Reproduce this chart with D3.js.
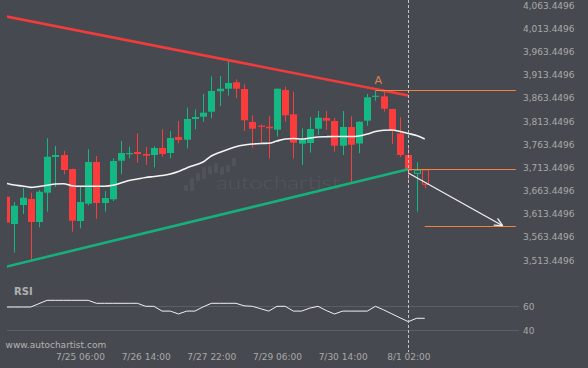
<!DOCTYPE html>
<html><head><meta charset="utf-8">
<script src="https://cdn.jsdelivr.net/npm/d3@7"></script>
<style>html,body{margin:0;padding:0;background:#46494f;}svg{display:block}</style>
</head><body><svg id="c" width="588" height="368"></svg>
<script>
// ---------- data ----------
const priceTicks = [3513.4496,3563.4496,3613.4496,3663.4496,3713.4496,3763.4496,3813.4496,3863.4496,3913.4496,3963.4496,4013.4496,4063.4496];
const timeLabels = ["7/25 06:00","7/26 14:00","7/27 22:00","7/29 06:00","7/30 14:00","8/1 02:00"];
const timeLabelIdx = [9,17,25,33,41,49];
const opens  = [3650,3591.1,3632.0,3645.0,3595.4,3658.6,3735.6,3739.9,3709.7,3597.5,3634.9,3724.8,3636.4,3644.4,3727.6,3742.7,3746.4,3742.1,3739.9,3755.0,3744.2,3778.7,3772.9,3817.6,3822.5,3833.3,3877.3,3882.9,3896.7,3882.3,3811.1,3803.1,3800.9,3794.5,3880.1,3827.7,3764.3,3765.8,3796.6,3819.7,3813.2,3760.0,3800.3,3764.7,3813.9,3866.5,3866.5,3839.1,3786.7,3739.9,3700.4,3707.6];
const highs  = [3651.5,3638.5,3669.4,3658.6,3664.4,3775.9,3759.3,3748.5,3710.5,3671.5,3752.2,3737.8,3662.3,3732.8,3770.1,3757.8,3786.7,3757.8,3758.7,3795.3,3791.7,3813.2,3841.9,3838.5,3871.5,3909.7,3910.3,3942.7,3903.2,3892.4,3825.5,3806.1,3823.4,3883.5,3887.2,3876.4,3797.5,3821.9,3834.8,3834.8,3820.4,3834.8,3823.4,3812.5,3871.5,3878.6,3878.0,3839.8,3821.2,3760.0,3724.2,3707.6];
const lows   = [3593.2,3529.2,3612.6,3511.9,3584.0,3617.6,3670.9,3698.3,3574.5,3581.8,3631.4,3602.5,3617.6,3640.7,3698.3,3732.8,3723.3,3718.3,3713.4,3736.2,3732.8,3765.1,3754.4,3795.3,3811.7,3819.1,3845.6,3867.8,3862.2,3791.7,3755.7,3763.0,3732.8,3779.4,3811.7,3732.8,3718.3,3744.9,3783.0,3793.8,3747.0,3739.9,3681.0,3743.6,3803.1,3857.0,3833.3,3763.6,3735.6,3686.0,3617.6,3668.1];
const closes = [3594,3630.6,3647.8,3595.4,3660.7,3736.2,3739.9,3707.6,3598.2,3638.5,3724.8,3636.4,3647.2,3727.0,3744.2,3744.2,3742.1,3738.4,3755.0,3742.1,3776.6,3772.3,3817.6,3821.9,3831.2,3878.0,3882.9,3895.2,3882.9,3814.8,3796.6,3800.9,3797.5,3882.9,3825.5,3766.4,3773.8,3796.0,3820.4,3813.9,3760.0,3800.3,3762.1,3811.7,3864.4,3867.8,3839.8,3792.3,3739.9,3706.0,3706.9,3676.7];
const firstForecastIdx = 50;
const movingAvg = [3678.9,3675.2,3673.0,3670.2,3672.0,3674.5,3677.4,3678.0,3673.7,3672.4,3672.4,3672.4,3672.6,3674.5,3679.5,3684.9,3688.1,3691.4,3693.5,3695.7,3698.9,3704.3,3711.9,3718.3,3724.8,3737.8,3745.3,3751.8,3757.8,3761.5,3763.6,3764.7,3765.2,3770.1,3774.4,3775.5,3774.4,3776.6,3778.7,3779.4,3779.8,3779.8,3779.8,3780.9,3785.2,3790.6,3793.2,3793.8,3790.6,3786.3,3782.0,3774.4];
const rsiValues = [59.4,59.4,59.4,59.4,62.2,65,65,65,65,65,65,62.5,62.5,62.5,62.5,62.5,62.5,60,60,56,56,53.6,56,56,59.5,62.5,62.5,62.5,62.5,60.4,60,58,56,60,60,56,56,58.5,60,56.5,53.6,56,56,56,56,60,57,53.7,50.4,47.2,50,50];
const rsiTicks = [40,60];
const resistanceLine = [[0,4038.6],[49,3868.2]];
const supportLine = [[0,3499.0],[49,3709.1]];
const levelA = {from:45, to:62.1, value:3880.1};
const levelBreak = {from:49, to:62.1, value:3709.1};
const levelTarget = {from:51, to:62.1, value:3586.8};
const forecastArrow = [[49,3701.0],[60.5,3587.4]];
const patternLabel = {text:"A", idx:45.35, value:3893};
const markerIdx = 49;
const logoBars = [[185,191],[178,191],[173,181],[167,179],[166,174],[163,173],[167,175],[165,172],[158,166]];

// ---------- drawing ----------
const W = 588, H = 368, BG = "#46494f";
const GREEN = "#13b883", RED = "#fb3c3c", ORANGE = "#f5823c", TXT = "#a9a9a9";
const FONT = "DejaVu Sans";
const svg = d3.select("#c");
svg.append("rect").attr("width", W).attr("height", H).attr("fill", BG);

const x = d3.scaleLinear().domain([0, 49]).range([6.1, 408.3]);
const y = d3.scaleLinear().domain([3513.4496, 4063.4496]).range([260, 5]);
const yr = d3.scaleLinear().domain([40, 60]).range([330.3, 306.3]);

const defs = svg.append("defs");
defs.append("clipPath").attr("id", "mainClip").append("rect").attr("x", 7).attr("y", 0).attr("width", 513).attr("height", 275);
defs.append("clipPath").attr("id", "rsiClip").append("rect").attr("x", 7).attr("y", 282).attr("width", 513).attr("height", 62);

// watermark
const wm = svg.append("g");
wm.selectAll("rect").data(logoBars).join("rect")
  .attr("x", (d, i) => 184 + i * 6).attr("y", d => d[0]).attr("width", 4).attr("height", d => d[1] - d[0])
  .attr("rx", 1).attr("fill", "#505459");
wm.append("text").attr("x", 216).attr("y", 189).attr("font-family", "Lato").attr("font-weight", 300).attr("font-size", 18)
  .attr("textLength", 124).attr("lengthAdjust", "spacingAndGlyphs").attr("fill", "#53575c").text("autochartist");

const main = svg.append("g").attr("clip-path", "url(#mainClip)");

// candles
const idx = d3.range(opens.length);
const cg = main.append("g");
idx.forEach(i => {
  const up = closes[i] >= opens[i];
  const col = up ? GREEN : RED;
  const cx = Math.round(x(i)) + 0.5;
  const hollow = i >= firstForecastIdx;
  const top = y(Math.max(opens[i], closes[i])), bot = y(Math.min(opens[i], closes[i]));
  cg.append("line").attr("x1", cx).attr("x2", cx).attr("y1", y(highs[i])).attr("y2", y(lows[i]))
    .attr("stroke", col).attr("stroke-width", 1);
  if (hollow) {
    cg.append("rect").attr("x", cx - 3).attr("y", top).attr("width", 6).attr("height", Math.max(2, bot - top))
      .attr("fill", BG).attr("stroke", col).attr("stroke-width", 1);
  } else {
    cg.append("rect").attr("x", cx - 3.5).attr("y", top).attr("width", 7).attr("height", Math.max(1.2, bot - top))
      .attr("fill", col);
  }
});

// moving average
main.append("path").datum(movingAvg)
  .attr("d", d3.line().x((d, i) => x(i)).y(d => y(d)).curve(d3.curveMonotoneX))
  .attr("fill", "none").attr("stroke", "#f4f4f4").attr("stroke-width", 1.6);

// trend lines
const tl = d3.line().x(d => x(d[0])).y(d => y(d[1]));
main.append("path").datum(resistanceLine).attr("d", tl).attr("stroke", "#f03c3c").attr("stroke-width", 2.6).attr("fill", "none");
main.append("path").datum(supportLine).attr("d", tl).attr("stroke", "#17b07a").attr("stroke-width", 2.6).attr("fill", "none");

// horizontal levels
[levelA, levelBreak, levelTarget].forEach(l => {
  main.append("line").attr("x1", x(l.from)).attr("x2", x(l.to)).attr("y1", Math.round(y(l.value)) + 0.5).attr("y2", Math.round(y(l.value)) + 0.5)
    .attr("stroke", ORANGE).attr("stroke-width", 1.1);
});

// forecast arrow
const a0 = [x(forecastArrow[0][0]), y(forecastArrow[0][1])];
const a1 = [x(forecastArrow[1][0]), y(forecastArrow[1][1])];
main.append("line").attr("x1", a0[0]).attr("y1", a0[1]).attr("x2", a1[0]).attr("y2", a1[1])
  .attr("stroke", "#f0f0f0").attr("stroke-width", 1.3);
const ang = Math.atan2(a1[1] - a0[1], a1[0] - a0[0]);
[0.45, -0.45].forEach(da => {
  const L = 9;
  main.append("line").attr("x1", a1[0]).attr("y1", a1[1])
    .attr("x2", a1[0] - L * Math.cos(ang + da)).attr("y2", a1[1] - L * Math.sin(ang + da))
    .attr("stroke", "#f0f0f0").attr("stroke-width", 1.3);
});

// pattern label
svg.append("text").attr("x", x(patternLabel.idx)).attr("y", y(patternLabel.value)).attr("text-anchor", "middle")
  .attr("font-family", FONT).attr("font-size", 11).attr("fill", "#e0844c").text(patternLabel.text);

// price axis
const yAxis = svg.append("g").attr("transform", "translate(523,0)")
  .call(d3.axisRight(y).tickValues(priceTicks).tickFormat(d3.format(",.4f")).tickSize(0).tickPadding(0));
yAxis.select(".domain").remove();
yAxis.selectAll("text").attr("font-family", FONT).attr("font-size", 9).attr("fill", TXT).attr("dy", "0.35em");

// RSI panel
svg.append("text").attr("x", 14).attr("y", 291.7).attr("dy", "0.35em").attr("font-family", FONT)
  .attr("font-weight", "bold").attr("font-size", 10).attr("fill", "#b0b0b0").text("RSI");
svg.append("g").selectAll("line").data(rsiTicks).join("line")
  .attr("x1", 7).attr("x2", 519).attr("y1", d => Math.round(yr(d)) + 0.5).attr("y2", d => Math.round(yr(d)) + 0.5)
  .attr("stroke", "#5b5f65").attr("stroke-width", 1);
const rAxis = svg.append("g").attr("transform", "translate(523,0)")
  .call(d3.axisRight(yr).tickValues(rsiTicks).tickSize(0).tickPadding(0));
rAxis.select(".domain").remove();
rAxis.selectAll("text").attr("font-family", FONT).attr("font-size", 9).attr("fill", TXT).attr("dy", "0.35em");
svg.append("g").attr("clip-path", "url(#rsiClip)").append("path").datum(rsiValues)
  .attr("d", d3.line().x((d, i) => x(i)).y(d => yr(d)))
  .attr("fill", "none").attr("stroke", "#f0f0f0").attr("stroke-width", 1);

// vertical marker
svg.append("line").attr("x1", Math.round(x(markerIdx)) + 0.5).attr("x2", Math.round(x(markerIdx)) + 0.5)
  .attr("y1", 0).attr("y2", 352).attr("stroke", "#c4c4c4").attr("stroke-width", 1).attr("stroke-dasharray", "3,2");

// time axis
const xAxis = svg.append("g").attr("transform", "translate(0,356.7)")
  .call(d3.axisBottom(x).tickValues(timeLabelIdx).tickFormat((d, i) => timeLabels[i]).tickSize(0).tickPadding(0));
xAxis.select(".domain").remove();
xAxis.selectAll("text").attr("y", 0).attr("dy", "0.35em").attr("font-family", FONT).attr("font-size", 9).attr("fill", TXT);

svg.append("text").attr("x", 5.6).attr("y", 344.7).attr("dy", "0.35em").attr("font-family", FONT)
  .attr("font-size", 9).attr("fill", "#b4b4b4").text("www.autochartist.com");
</script></body></html>
